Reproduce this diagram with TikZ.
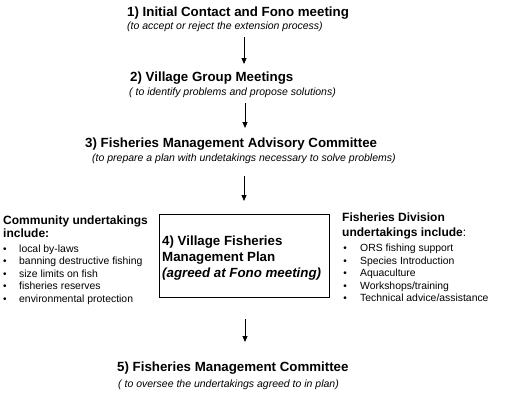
\documentclass[tikz,border=0pt]{standalone}
\usepackage{fontspec}
\setmainfont{Liberation Sans}
\usetikzlibrary{arrows.meta}
\begin{document}
\begin{tikzpicture}[x=1pt,y=-1pt,
  title/.style={anchor=base west,inner sep=0pt,font=\fontsize{13.3}{15}\selectfont\bfseries},
  sub/.style={anchor=base west,inner sep=0pt,font=\fontsize{10.5}{12}\selectfont\itshape},
  head/.style={anchor=base west,inner sep=0pt,font=\fontsize{12}{14}\selectfont\bfseries},
  item/.style={anchor=base west,inner sep=0pt,font=\fontsize{10.4}{12}\selectfont},
  bul/.style={anchor=base,inner sep=0pt,font=\fontsize{10}{12}\selectfont},
  flow/.style={-{Triangle[width=5pt,length=6pt]},line width=0.9pt},
  plan/.style={draw,line width=0.9pt,minimum width=170pt,minimum height=83pt,inner sep=0pt}]
\useasboundingbox (0,0) rectangle (505,402);
% step 1
\node[title] (t1) at (127,16.7) {1) Initial Contact and Fono meeting};
\node[sub] (s1) at (127,29.5) {(to accept or reject the extension process)};
\coordinate (a1s) at (244,37);
\coordinate (a1e) at (244,64);
\draw[flow] (a1s) -- (a1e);
% step 2
\node[title] (t2) at (130,81.7) {2) Village Group Meetings};
\node[sub] (s2) at (129,95) {( to identify problems and propose solutions)};
\coordinate (a2s) at (245,103);
\coordinate (a2e) at (245,128);
\draw[flow] (a2s) -- (a2e);
% step 3
\node[title] (t3) at (85,147.7) {3) Fisheries Management Advisory Committee};
\node[sub] (s3) at (92,161) {(to prepare a plan with undetakings necessary to solve problems)};
\coordinate (a3s) at (244,176);
\coordinate (a3e) at (244,201);
\draw[flow] (a3s) -- (a3e);
% step 4 box
\node[plan] (box) at (244,255.5) {};
\node[title] (b1) at (162,245) {4) Village Fisheries};
\node[title] (b2) at (162,261) {Management Plan};
\node[title,font=\fontsize{13.3}{15}\selectfont\bfseries\itshape] (b3) at (162,277) {(agreed at Fono meeting)};
% left list
\node[head] (lh1) at (3,224) {Community undertakings};
\node[head] (lh2) at (3,237) {include:};
\foreach \t [count=\i] in {local by-laws,banning destructive fishing,size limits on fish,fisheries reserves,environmental protection}{
  \node[bul] (lb\i) at (5,{239.5+12.5*\i}) {•};
  \node[item] (li\i) at (19,{239.5+12.5*\i}) {\t};
}
% right list
\node[head] (rh1) at (342,221) {Fisheries Division};
\node[head] (rh2) at (342,236.7) {undertakings include\textmd{:}};
\foreach \t [count=\i] in {ORS fishing support,Species Introduction,Aquaculture,Workshops/training,Technical advice/assistance}{
  \node[bul] (rb\i) at (345,{239+12.5*\i}) {•};
  \node[item] (ri\i) at (360,{239+12.5*\i}) {\t};
}
% arrow 4
\coordinate (a4s) at (245,319);
\coordinate (a4e) at (245,342);
\draw[flow] (a4s) -- (a4e);
% step 5
\node[title] (t5) at (117,371.7) {5) Fisheries Management Committee};
\node[sub] (s5) at (118,387) {( to oversee the undertakings agreed to in plan)};
\end{tikzpicture}
\end{document}
